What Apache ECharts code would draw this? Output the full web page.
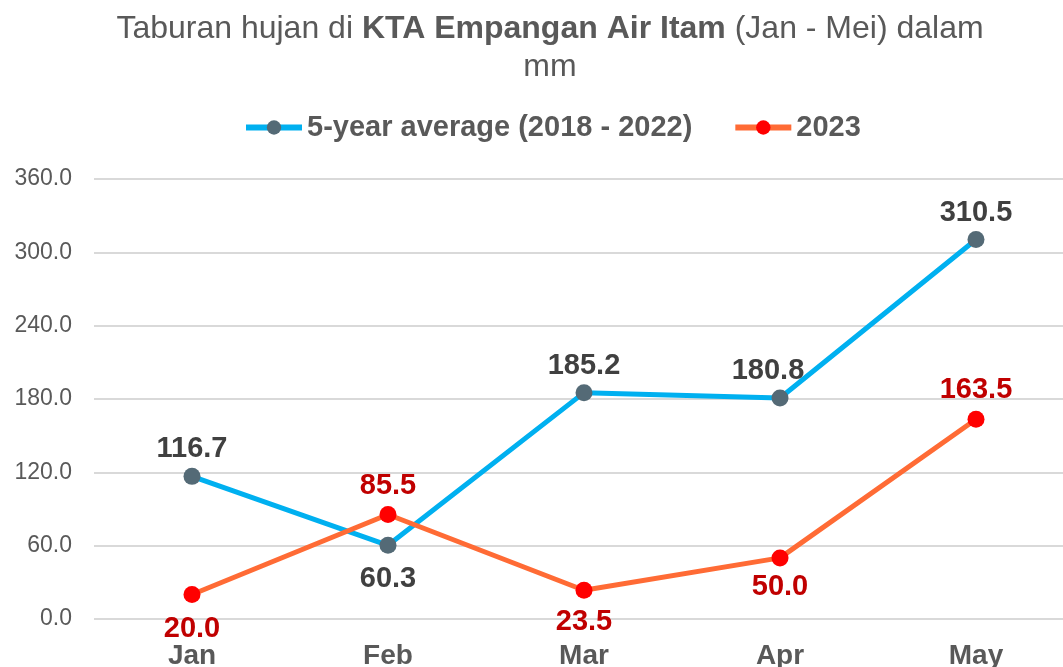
<!DOCTYPE html>
<html style="height: 100%">

<head>
    <meta charset="utf-8">
    <title>Taburan hujan KTA Empangan Air Itam</title>
</head>

<body style="height: 100%; margin: 0; background: #fff">
    <div id="container" style="width: 1063px; height: 667px"></div>
    <script src="https://cdn.jsdelivr.net/npm/echarts@6/dist/echarts.min.js"></script>
    <script type="text/javascript">
        var months = ['Jan', 'Feb', 'Mar', 'Apr', 'May'];
        var avg5Year = [116.7, 60.3, 185.2, 180.8, 310.5];
        var year2023 = [20.0, 85.5, 23.5, 50.0, 163.5];
        var yTicks = [0, 60, 120, 180, 240, 300, 360];

        // label placement for each point
        var avgPos = ['top', 'bottom', 'top', 'top', 'top'];
        var avgOffset = [[0, 0], [0, 7], [0, 0], [-12, 0], [0, 0]];
        var newPos = ['bottom', 'top', 'bottom', 'bottom', 'top'];
        var newOffset = [[0, 5], [0, 0], [0, 3], [0, 0], [0, 0]];

        var font = '"Liberation Sans", Arial, sans-serif';

        var myChart = echarts.init(document.getElementById('container'));

        function withLabels(values, pos, offset) {
            return values.map(function (v, i) {
                return {
                    value: v,
                    label: { position: pos[i], offset: offset[i] }
                };
            });
        }

        var option = {
            animation: false,
            textStyle: { fontFamily: font },
            title: {
                left: 550,
                top: 10,
                padding: 0,
                textAlign: 'center',
                text: '{n|Taburan hujan di }{b|KTA Empangan Air Itam}{n| (Jan - Mei) dalam}\n{n|mm}',
                textStyle: {
                    fontFamily: font,
                    fontWeight: 'normal',
                    rich: {
                        n: { fontSize: 32, color: '#595959', fontWeight: 'normal', fontFamily: font, lineHeight: 38 },
                        b: { fontSize: 32, color: '#595959', fontWeight: 'bold', fontFamily: font, lineHeight: 38 }
                    }
                }
            },
            legend: {
                top: 108,
                left: 238,
                itemGap: 40,
                itemWidth: 56,
                itemHeight: 18,
                textStyle: { fontSize: 29, fontWeight: 'bold', color: '#595959', fontFamily: font },
                data: [
                    { name: '5-year average (2018 - 2022)', lineStyle: { width: 6 } },
                    { name: '2023', lineStyle: { width: 6 } }
                ]
            },
            grid: {
                left: 94,
                top: 179,
                right: -11,
                bottom: 48,
                outerBoundsMode: 'none',
                containLabel: false
            },
            xAxis: {
                type: 'category',
                data: months,
                boundaryGap: true,
                axisLine: { show: false },
                axisTick: { show: false },
                axisLabel: {
                    fontSize: 28,
                    fontWeight: 'bold',
                    color: '#595959',
                    margin: 23,
                    fontFamily: font
                }
            },
            yAxis: {
                type: 'value',
                min: yTicks[0],
                max: yTicks[yTicks.length - 1],
                interval: 60,
                axisLine: { show: false },
                axisTick: { show: false },
                axisLabel: {
                    fontSize: 23,
                    color: '#595959',
                    margin: 22,
                    fontFamily: font,
                    formatter: function (v) { return v.toFixed(1); }
                },
                splitLine: { lineStyle: { color: '#d9d9d9', width: 2 } }
            },
            series: [{
                name: '5-year average (2018 - 2022)',
                type: 'line',
                data: withLabels(avg5Year, avgPos, avgOffset),
                symbol: 'circle',
                symbolSize: 17,
                itemStyle: { color: '#546a76' },
                lineStyle: { color: '#00b0f0', width: 5 },
                label: {
                    show: true,
                    fontSize: 29,
                    fontWeight: 'bold',
                    color: '#404040',
                    distance: 4,
                    fontFamily: font,
                    formatter: function (p) { return p.value.toFixed(1); }
                }
            }, {
                name: '2023',
                type: 'line',
                data: withLabels(year2023, newPos, newOffset),
                symbol: 'circle',
                symbolSize: 17,
                itemStyle: { color: '#ff0000' },
                lineStyle: { color: '#ff6b35', width: 5 },
                label: {
                    show: true,
                    fontSize: 29,
                    fontWeight: 'bold',
                    color: '#c00000',
                    distance: 6,
                    fontFamily: font,
                    formatter: function (p) { return p.value.toFixed(1); }
                }
            }]
        };
        myChart.setOption(option);
    </script>
</body>

</html>
